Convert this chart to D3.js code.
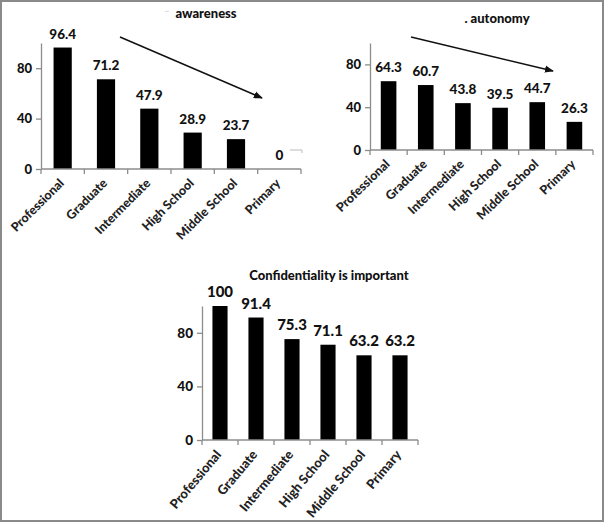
<!DOCTYPE html>
<html>
<head>
<meta charset="utf-8">
<script src="https://cdn.jsdelivr.net/npm/d3@7"></script>
<style>
  html, body { margin: 0; padding: 0; background: #fff; }
  svg { display: block; }
  text { font-family: Lato, "Open Sans", "Liberation Sans", sans-serif; font-weight: 900; }
</style>
</head>
<body>
<svg id="chart" width="605" height="523"></svg>
<script>
// ---- data ----
const categories = ["Professional", "Graduate", "Intermediate", "High School", "Middle School", "Primary"];
const awareness = [96.4, 71.2, 47.9, 28.9, 23.7, 0];
const autonomy = [64.3, 60.7, 43.8, 39.5, 44.7, 26.3];
const confidentiality = [100, 91.4, 75.3, 71.1, 63.2, 63.2];
const yTicks = [0, 40, 80];
const yMax = 100;
const titles = ["awareness", ". autonomy", "Confidentiality is important"];

// ---- layout ----
const panels = [
  { values: awareness, title: titles[0], x0: 41, x1: 301, yTop: 43, yBot: 169,
    titleX: 206, titleY: 18, valFont: 13.5, labFont: 12.5, tickFont: 13, labAngle: -45,
    arrow: [[120, 37], [262, 98]], dots: [167, 12] },
  { values: autonomy, title: titles[1], x0: 370, x1: 593, yTop: 43, yBot: 150,
    titleX: 497, titleY: 23, valFont: 13.5, labFont: 12.5, tickFont: 13, labAngle: -44,
    arrow: [[411, 37], [553, 71]] },
  { values: confidentiality, title: titles[2], x0: 202, x1: 418, yTop: 306, yBot: 440,
    titleX: 329, titleY: 280, valFont: 15, labFont: 13, tickFont: 13.5, labAngle: -50 }
];

const svg = d3.select("#chart");

svg.append("defs").append("marker")
  .attr("id", "arrowhead")
  .attr("viewBox", "0 0 10 10")
  .attr("refX", 9).attr("refY", 5)
  .attr("markerWidth", 6).attr("markerHeight", 6)
  .attr("orient", "auto")
  .append("path").attr("d", "M0,1 L10,5 L0,9 Z").attr("fill", "#111");

// outer border
svg.append("rect").attr("x", 1).attr("y", 1).attr("width", 602).attr("height", 520)
  .attr("fill", "none").attr("stroke", "#8a8a8a").attr("stroke-width", 2);
// small leftover corner mark
svg.append("path").attr("d", "M290,150 L302,150 L302,153")
  .attr("fill", "none").attr("stroke", "#bbb").attr("stroke-width", 1);

const axisColor = "#8c8c8c";

panels.forEach(p => {
  const g = svg.append("g");
  const xb = d3.scaleBand().domain(categories).range([p.x0, p.x1]).padding(0);
  const y = d3.scaleLinear().domain([0, yMax]).range([p.yBot, p.yTop]);
  const barW = xb.bandwidth() * 0.42;
  const cx = d => xb(d) + xb.bandwidth() / 2;

  // title
  g.append("text").attr("x", p.titleX).attr("y", p.titleY)
    .attr("text-anchor", "middle").attr("font-size", 13).attr("fill", "#111")
    .text(p.title);
  if (p.dots) {
    g.append("text").attr("x", p.dots[0]).attr("y", p.dots[1])
      .attr("text-anchor", "middle").attr("font-size", 8).attr("fill", "#ccc").text("..");
  }

  // bars
  g.selectAll("rect.bar").data(categories).enter().append("rect")
    .attr("class", "bar")
    .attr("x", d => cx(d) - barW / 2)
    .attr("width", barW)
    .attr("y", (d, i) => y(p.values[i]))
    .attr("height", (d, i) => y(0) - y(p.values[i]))
    .attr("fill", "#000");

  // value labels
  g.selectAll("text.val").data(categories).enter().append("text")
    .attr("class", "val")
    .attr("x", d => cx(d))
    .attr("y", (d, i) => y(p.values[i]) - 9)
    .attr("text-anchor", "middle")
    .attr("font-size", p.valFont).attr("fill", "#111")
    .text((d, i) => String(p.values[i]));

  // y axis
  const ya = g.append("g").attr("transform", `translate(${p.x0},0)`)
    .call(d3.axisLeft(y).tickValues(yTicks).tickSize(5).tickSizeOuter(0).tickPadding(4));
  ya.select(".domain").attr("stroke", axisColor).attr("stroke-width", 1.3);
  ya.selectAll(".tick line").attr("stroke", axisColor).attr("stroke-width", 1.3);
  ya.selectAll(".tick text").attr("font-size", p.tickFont).attr("fill", "#111")
    .attr("font-family", "Lato, sans-serif").attr("font-weight", 900);

  // x axis (ticks at band boundaries)
  const xa = g.append("g");
  xa.append("line").attr("x1", p.x0).attr("x2", p.x1).attr("y1", y(0)).attr("y2", y(0))
    .attr("stroke", axisColor).attr("stroke-width", 1.3);
  const bounds = categories.map(d => xb(d)).concat([xb(categories[categories.length - 1]) + xb.bandwidth()]);
  xa.selectAll("line.xt").data(bounds).enter().append("line")
    .attr("class", "xt")
    .attr("x1", d => d).attr("x2", d => d)
    .attr("y1", y(0)).attr("y2", y(0) + 5)
    .attr("stroke", axisColor).attr("stroke-width", 1.3);
  xa.selectAll("text.xl").data(categories).enter().append("text")
    .attr("class", "xl")
    .attr("transform", d => `translate(${cx(d) + 2},${y(0) + 15}) rotate(${p.labAngle})`)
    .attr("text-anchor", "end")
    .attr("font-size", p.labFont).attr("fill", "#222")
    .text(d => d);

  // trend arrow
  if (p.arrow) {
    g.append("line")
      .attr("x1", p.arrow[0][0]).attr("y1", p.arrow[0][1])
      .attr("x2", p.arrow[1][0]).attr("y2", p.arrow[1][1])
      .attr("stroke", "#111").attr("stroke-width", 1.5)
      .attr("marker-end", "url(#arrowhead)");
  }
});
</script>
</body>
</html>
